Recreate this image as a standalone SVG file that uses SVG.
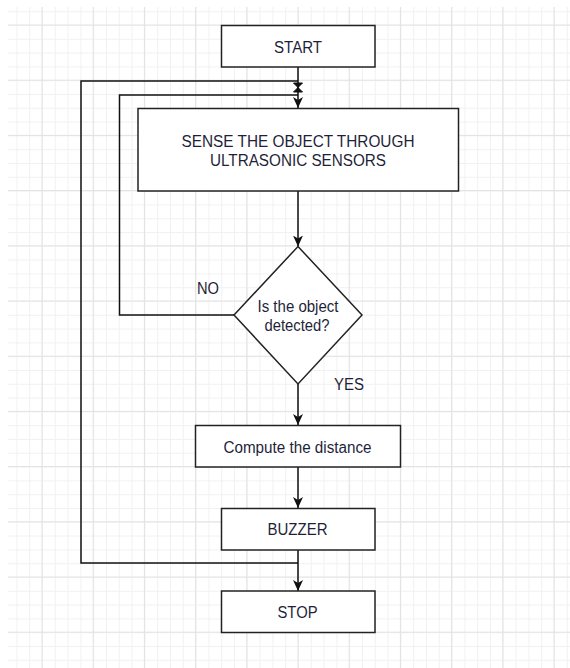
<svg xmlns="http://www.w3.org/2000/svg" width="570" height="668" viewBox="0 0 570 668">
<defs>
<style>
.minor{stroke:#f1f1f1;stroke-width:1}
.major{stroke:#e2e2e2;stroke-width:1}
.node{fill:#ffffff;stroke:#222222;stroke-width:1.5}
.edge{fill:none;stroke:#111111;stroke-width:1.5}
.t{font-family:"Liberation Sans",Arial,sans-serif;font-size:16px;fill:#1f1f3a;text-anchor:middle}
</style>
<marker id="arr" markerUnits="userSpaceOnUse" markerWidth="12" markerHeight="12" viewBox="0 0 12 12" refX="11" refY="6" orient="auto">
<path d="M0,1 L11,6 L0,11 L3,6 Z" fill="#111111"/>
</marker>
<pattern id="minorgrid" patternUnits="userSpaceOnUse" x="3.6" y="-2.6" width="12.8" height="13.8">
<path d="M0,0.5 H12.8 M0.5,0 V13.8" class="minor" fill="none"/>
</pattern>
<pattern id="majorgrid" patternUnits="userSpaceOnUse" x="-9.7" y="-30.7" width="51.2" height="55.2">
<path d="M0,0.5 H51.2 M0.5,0 V55.2" class="major" fill="none"/>
</pattern>
</defs>
<rect x="0" y="0" width="570" height="668" fill="#ffffff"/>
<g id="grid">
<rect x="8" y="7" width="562" height="661" fill="url(#minorgrid)"/>
<rect x="8" y="7" width="562" height="661" fill="url(#majorgrid)"/>
</g>
<g id="connectors">
<polyline class="edge" points="298,563 81,563 81,81 298,81"/>
<polyline class="edge" points="234,315 119.5,315 119.5,95 298,95"/>
<line class="edge" x1="298" y1="67" x2="298" y2="108" marker-end="url(#arr)"/>
<path d="M293.5,83 L302.5,83 L293.5,92 L302.5,92 Z" fill="#111111" stroke="#111111" stroke-width="1"/>
<line class="edge" x1="298" y1="191" x2="298" y2="246.5" marker-end="url(#arr)"/>
<line class="edge" x1="298" y1="384" x2="298" y2="425" marker-end="url(#arr)"/>
<line class="edge" x1="298" y1="467" x2="298" y2="508" marker-end="url(#arr)"/>
<line class="edge" x1="298" y1="550" x2="298" y2="591" marker-end="url(#arr)"/>
<text class="t" x="208" y="293.5" textLength="22" lengthAdjust="spacingAndGlyphs">NO</text>
<text class="t" x="349" y="390" textLength="30" lengthAdjust="spacingAndGlyphs">YES</text>
</g>
<g id="start">
<rect class="node" x="221.5" y="25.5" width="153.5" height="41.5"/>
<text class="t" x="298" y="52.5" textLength="48" lengthAdjust="spacingAndGlyphs">START</text>
</g>
<g id="sense">
<rect class="node" x="138" y="108.5" width="320.5" height="82.5"/>
<text class="t" x="298" y="146.5" textLength="233" lengthAdjust="spacingAndGlyphs">SENSE THE OBJECT THROUGH</text>
<text class="t" x="298" y="165.5" textLength="176" lengthAdjust="spacingAndGlyphs">ULTRASONIC SENSORS</text>
</g>
<g id="decision">
<polygon class="node" points="298,246.5 362,315 298,384 234,315"/>
<text class="t" x="298" y="311.5" textLength="81" lengthAdjust="spacingAndGlyphs">Is the object</text>
<text class="t" x="297" y="330.5" textLength="65" lengthAdjust="spacingAndGlyphs">detected?</text>
</g>
<g id="compute">
<rect class="node" x="195.5" y="425.5" width="205" height="41.5"/>
<text class="t" x="297.5" y="452.5" textLength="148" lengthAdjust="spacingAndGlyphs">Compute the distance</text>
</g>
<g id="buzzer">
<rect class="node" x="221.5" y="508.5" width="153.5" height="41.5"/>
<text class="t" x="297.5" y="535" textLength="60" lengthAdjust="spacingAndGlyphs">BUZZER</text>
</g>
<g id="stop">
<rect class="node" x="221.5" y="591" width="153.5" height="41.5"/>
<text class="t" x="297.5" y="617.5" textLength="40" lengthAdjust="spacingAndGlyphs">STOP</text>
</g>
</svg>
